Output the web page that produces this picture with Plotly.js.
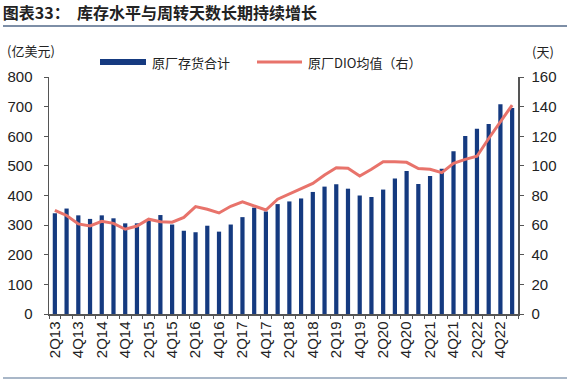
<!DOCTYPE html>
<html>
<head>
<meta charset="utf-8">
<script src="https://cdn.plot.ly/plotly-3.0.1.min.js"></script>
<style>html,body{margin:0;padding:0;background:#fff;}#chart{width:571px;height:384px;}</style>
</head>
<body>
<div id="chart"></div>
<script>
const quarters = ["2Q13","3Q13","4Q13","1Q14","2Q14","3Q14","4Q14","1Q15","2Q15","3Q15","4Q15","1Q16","2Q16","3Q16","4Q16","1Q17","2Q17","3Q17","4Q17","1Q18","2Q18","3Q18","4Q18","1Q19","2Q19","3Q19","4Q19","1Q20","2Q20","3Q20","4Q20","1Q21","2Q21","3Q21","4Q21","1Q22","2Q22","3Q22","4Q22","1Q23"];
const tickLabels = ["2Q13","4Q13","2Q14","4Q14","2Q15","4Q15","2Q16","4Q16","2Q17","4Q17","2Q18","4Q18","2Q19","4Q19","2Q20","4Q20","2Q21","4Q21","2Q22","4Q22"];
const inventory = [340,356,333,321,333,323,306,306,315,334,302,281,276,298,278,302,327,359,346,371,380,390,412,430,438,423,400,395,420,457,483,439,466,490,549,601,625,641,708,695];
const dio = [70,66.5,60.8,59.4,62.6,61.2,57.2,59.4,64,62.3,62,65.2,72.5,70.7,68.2,72.7,75.7,73,70.2,77.5,81,84.2,88.2,93.9,98.8,98.4,93.2,97.7,102.8,102.8,102.4,98.2,97.7,95.4,101.7,104.4,106.5,118.5,130,141];

const W = 571, H = 384, L = 49, R = 518, T = 77, B = 314;
const px = X => (X - L) / (R - L);
const py = Y => (B - Y) / (B - T);

const navy = '#153a80', red = '#e8736b';
const cjk = '"Noto Sans CJK SC", sans-serif';
const latin = '"Liberation Sans", Arial, sans-serif';

const traces = [
  {type:'bar', x:quarters, y:inventory, name:'原厂存货合计', marker:{color:navy}, width:0.36, xaxis:'x', yaxis:'y', showlegend:false, hoverinfo:'skip'},
  {type:'scatter', mode:'lines', x:quarters, y:dio, name:'原厂DIO均值（右）', line:{color:red, width:3}, xaxis:'x', yaxis:'y2', showlegend:false, hoverinfo:'skip'},
  {type:'scatter', mode:'markers', x:quarters, y:inventory, xaxis:'x2', yaxis:'y', marker:{opacity:0}, showlegend:false, hoverinfo:'skip'}
];

const layout = {
  width: W, height: H,
  margin: {l: L, r: W - R, t: T, b: H - B, pad: 0},
  paper_bgcolor: '#fff', plot_bgcolor: '#fff',
  font: {family: latin, color: '#222'},
  title: {text: '<b>图表33：  库存水平与周转天数长期持续增长</b>', x: 0.005, xanchor: 'left', y: 1 - 13/H, yanchor: 'middle', font: {family: cjk, size: 16, color: '#222'}},
  xaxis: {type:'category', categoryorder:'array', categoryarray:quarters, range:[-0.5, quarters.length - 0.5], tickmode:'array', tickvals:tickLabels, ticktext:tickLabels, tickangle:-90, ticks:'', showline:true, linecolor:'#555', linewidth:1.5, tickfont:{size:15, family:latin, color:'#222'}, showgrid:false, zeroline:false, fixedrange:true},
  xaxis2: {type:'category', categoryorder:'array', categoryarray:quarters, range:[-0.5, quarters.length - 0.5], overlaying:'x', anchor:'y', side:'bottom', tickson:'boundaries', ticks:'outside', ticklen:4, tickcolor:'#555', tickwidth:1, showticklabels:false, showgrid:false, showline:false, zeroline:false, dtick:1},
  yaxis: {range:[0,800], dtick:100, ticks:'outside', ticklen:4, tickcolor:'#555', showline:true, linecolor:'#555', linewidth:1.5, showgrid:false, zeroline:false, tickfont:{size:15, family:latin, color:'#222'}, ticklabelstandoff:8},
  yaxis2: {range:[0,160], dtick:20, overlaying:'y', side:'right', ticks:'outside', ticklen:4, tickcolor:'#555', showline:true, linecolor:'#555', linewidth:1.5, showgrid:false, zeroline:false, tickfont:{size:15, family:latin, color:'#222'}, ticklabelstandoff:5},
  shapes: [
    {type:'line', xref:'paper', yref:'paper', x0:px(3), x1:px(567), y0:py(26), y1:py(26), line:{color:'#7d8ea6', width:2}},
    {type:'line', xref:'paper', yref:'paper', x0:px(3), x1:px(567), y0:py(378), y1:py(378), line:{color:'#a9b7c8', width:2}},
    {type:'rect', xref:'paper', yref:'paper', x0:px(100), x1:px(146), y0:py(65), y1:py(59), fillcolor:navy, line:{width:0}},
    {type:'line', xref:'paper', yref:'paper', x0:px(257), x1:px(302), y0:py(62), y1:py(62), line:{color:red, width:3}}
  ],
  annotations: [
    {xref:'paper', yref:'paper', x:px(150), y:py(62), xanchor:'left', yanchor:'middle', text:'原厂存货合计', showarrow:false, font:{family:cjk, size:13, color:'#222'}},
    {xref:'paper', yref:'paper', x:px(306), y:py(62), xanchor:'left', yanchor:'middle', text:'原厂DIO均值（右）', showarrow:false, font:{family:cjk, size:13, color:'#222'}},
    {xref:'paper', yref:'paper', x:px(5), y:py(50), xanchor:'left', yanchor:'middle', text:'(亿美元)', showarrow:false, font:{family:cjk, size:13, color:'#222'}},
    {xref:'paper', yref:'paper', x:px(556), y:py(52), xanchor:'right', yanchor:'middle', text:'(天)', showarrow:false, font:{family:cjk, size:13, color:'#222'}}
  ]
};

Plotly.newPlot('chart', traces, layout, {staticPlot:true, displayModeBar:false});
</script>
</body>
</html>
